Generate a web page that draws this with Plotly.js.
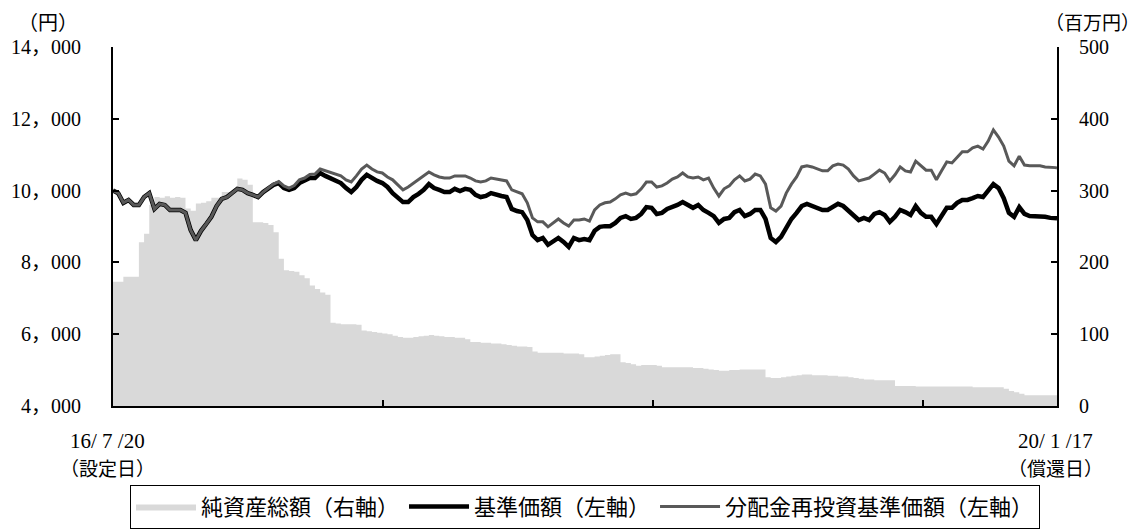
<!DOCTYPE html>
<html>
<head>
<meta charset="utf-8">
<script src="https://cdn.plot.ly/plotly-3.0.1.min.js"></script>
<style>html,body{margin:0;padding:0;background:#fff;}#chart{width:1140px;height:530px;}</style>
</head>
<body>
<div id="chart"></div>
<script>
// ---- data (weekly readings, launch 2016-07-20 to redemption 2020-01-17) ----
const startDate = '2016-07-20';
const endDate = '2020-01-17';
const yenTicks = [4000, 6000, 8000, 10000, 12000, 14000];
const yenTickLabels = ['4，000', '6，000', '8，000', '10，000', '12，000', '14，000'];
const mnTicks = [0, 100, 200, 300, 400, 500];
const yearTicks = ['2017-07-20', '2018-07-20', '2019-07-20'];

// 基準価額 (円)
const nav = [
  10000, 9930, 9660, 9740, 9600, 9600, 9820, 9930, 9490, 9630,
  9600, 9460, 9460, 9460, 9380, 8900, 8620, 8880, 9070, 9270,
  9570, 9770, 9820, 9930, 10050, 10020, 9930, 9880, 9820, 9960,
  10050, 10160, 10210, 10070, 10020, 10070, 10210, 10270, 10350, 10350,
  10490, 10410, 10350, 10300, 10210, 10070, 9960, 10100, 10300, 10440,
  10350, 10270, 10210, 10100, 9930, 9790, 9680, 9680, 9820, 9910,
  10020, 10180, 10070, 10020, 9960, 9960, 10050, 9990, 10050, 10020,
  9880, 9820, 9850, 9930, 9880, 9850, 9820, 9490, 9430, 9400,
  9180, 8760, 8620, 8680, 8490, 8570, 8680, 8570, 8430, 8680,
  8620, 8650, 8620, 8880, 8990, 9010, 9010, 9100, 9240, 9290,
  9210, 9240, 9350, 9540, 9520, 9350, 9380, 9490, 9540, 9600,
  9680, 9600, 9520, 9600, 9460, 9380, 9290, 9100, 9210, 9240,
  9400, 9460, 9290, 9350, 9460, 9460, 9210, 8680, 8570, 8710,
  8990, 9210, 9380, 9570, 9630, 9570, 9540, 9460, 9460, 9540,
  9630, 9570, 9430, 9290, 9180, 9240, 9180, 9350, 9400, 9320,
  9130, 9270, 9460, 9400, 9320, 9570, 9380, 9270, 9270, 9070,
  9290, 9520, 9520, 9660, 9740, 9740, 9790, 9850, 9820, 9990,
  10180, 10070, 9790, 9380, 9270, 9540, 9350, 9290, 9290, 9270,
  9270, 9240, 9240,
  9230
];

// 分配金再投資基準価額 (円)
const navReinvested = [
  10000, 9930, 9660, 9740, 9600, 9600, 9820, 9930, 9490, 9630,
  9600, 9460, 9460, 9460, 9380, 8900, 8620, 8880, 9070, 9270,
  9570, 9770, 9820, 9930, 10050, 10020, 9930, 9880, 9820, 9960,
  10070, 10180, 10250, 10130, 10070, 10140, 10300, 10350, 10450, 10460,
  10600, 10550, 10490, 10460, 10410, 10300, 10240, 10410, 10600, 10710,
  10600, 10520, 10490, 10380, 10300, 10160, 10020, 10100, 10210, 10300,
  10410, 10520, 10440, 10380, 10350, 10350, 10410, 10410, 10410, 10350,
  10270, 10240, 10270, 10350, 10320, 10300, 10270, 10020, 9960, 9910,
  9660, 9240, 9130, 9130, 8990, 9100, 9210, 9100, 9010, 9180,
  9180, 9210, 9150, 9460, 9600, 9660, 9680, 9770, 9880, 9930,
  9880, 9910, 10050, 10240, 10240, 10100, 10130, 10210, 10320, 10380,
  10490, 10380, 10350, 10380, 10300, 10350, 10070, 9850, 10050, 10130,
  10300, 10410, 10270, 10320, 10460, 10410, 10180, 9520, 9430, 9570,
  9930, 10180, 10380, 10660, 10690, 10660, 10600, 10550, 10550, 10690,
  10740, 10710, 10600, 10410, 10270, 10300, 10350, 10460, 10570, 10490,
  10270, 10440, 10660, 10550, 10520, 10820, 10690, 10570, 10570, 10300,
  10550, 10800, 10770, 10940, 11080, 11080, 11190, 11240, 11160, 11380,
  11690, 11490, 11240, 10820, 10690, 10960, 10710, 10690, 10690, 10690,
  10660, 10660, 10640,
  10630
];

// 純資産総額 (百万円)
const netAssets = [
  173, 173, 180, 180, 180, 228, 240, 280, 291, 290,
  292, 290, 291, 290, 275, 272, 282, 283, 285, 290,
  290, 298, 298, 300, 317, 315, 308, 256, 256, 255,
  252, 242, 205, 189, 188, 187, 182, 178, 168, 163,
  158, 155, 116, 115, 114, 114, 114, 113, 105, 104,
  103, 102, 101, 100, 98, 96, 95, 95, 96, 97,
  98, 99, 98, 97, 96, 96, 95, 95, 93, 89,
  89, 88, 88, 87, 87, 86, 85, 84, 83, 83,
  82, 76, 74, 74, 74, 74, 74, 73, 73, 73,
  72, 68, 68, 69, 70, 71, 72, 72, 61, 60,
  58, 56, 57, 57, 57, 56, 54, 54, 54, 54,
  54, 54, 53, 53, 52, 51, 50, 49, 49, 50,
  50, 51, 51, 51, 51, 51, 40, 39, 39, 40,
  41, 42, 43, 44, 44, 43, 43, 43, 42, 42,
  41, 41, 40, 39, 38, 37, 37, 36, 36, 36,
  36, 28, 28, 28, 28, 27, 27, 27, 27, 27,
  27, 27, 27, 27, 27, 27, 26, 26, 26, 26,
  26, 26, 24, 21, 19, 17, 15, 15, 15, 15,
  15, 15, 15,
  15
];

// weekly observation dates from launch, plus the redemption date
const dates = [];
(function () {
  const t0 = Date.parse(startDate + 'T00:00:00Z');
  for (let i = 0; i < nav.length - 1; i++) {
    dates.push(new Date(t0 + i * 7 * 86400000).toISOString().slice(0, 10));
  }
  dates.push(endDate);
})();

const FONT = 'Liberation Serif, "Noto Sans CJK JP", serif';
const CJK = '"Noto Sans CJK JP", sans-serif';

const traces = [
  {
    x: dates, y: netAssets, name: '純資産総額（右軸）', type: 'scatter', mode: 'lines',
    line: {width: 0, shape: 'hv', color: '#d9d9d9'}, fill: 'tozeroy', fillcolor: '#d9d9d9',
    xaxis: 'x', yaxis: 'y'
  },
  {
    x: dates, y: nav, name: '基準価額（左軸）', type: 'scatter', mode: 'lines',
    line: {width: 4.5, color: '#000000'}, xaxis: 'x', yaxis: 'y2'
  },
  {
    x: dates, y: navReinvested, name: '分配金再投資基準価額（左軸）', type: 'scatter', mode: 'lines',
    line: {width: 3, color: '#595959'}, xaxis: 'x', yaxis: 'y2'
  }
];

const layout = {
  width: 1140, height: 530,
  margin: {l: 113, r: 83, t: 47, b: 124, pad: 0, autoexpand: false},
  paper_bgcolor: '#ffffff', plot_bgcolor: '#ffffff',
  font: {family: FONT, size: 20, color: '#000000'},
  showlegend: true,
  legend: {
    orientation: 'h', x: 0.5, xanchor: 'center', y: -0.219, yanchor: 'top',
    bordercolor: '#000000', borderwidth: 1, bgcolor: '#ffffff',
    font: {family: FONT, size: 22, color: '#000000'},
    itemwidth: 60, traceorder: 'normal', tracegroupgap: 0
  },
  xaxis: {
    type: 'date', range: [startDate, endDate], showgrid: false, zeroline: false,
    showline: true, linecolor: '#000000', linewidth: 2, mirror: false,
    ticks: 'inside', ticklen: 6, tickwidth: 2, tickcolor: '#000000',
    tickmode: 'array', tickvals: yearTicks, showticklabels: false, fixedrange: true
  },
  yaxis: {
    range: [0, 500], side: 'right', showgrid: false, zeroline: false,
    showline: true, linecolor: '#000000', linewidth: 2,
    ticks: 'inside', ticklen: 6, tickwidth: 2, tickcolor: '#000000',
    tickmode: 'array', tickvals: mnTicks, ticktext: mnTicks.map(String),
    tickfont: {family: FONT, size: 20, color: '#000000'}, ticklabelstandoff: 16
  },
  yaxis2: {
    range: [4000, 14000], side: 'left', overlaying: 'y', showgrid: false, zeroline: false,
    showline: true, linecolor: '#000000', linewidth: 2,
    ticks: 'inside', ticklen: 6, tickwidth: 2, tickcolor: '#000000',
    tickmode: 'array', tickvals: yenTicks, ticktext: yenTickLabels,
    tickfont: {family: FONT, size: 20, color: '#000000'}, ticklabelstandoff: 26
  },
  annotations: [
    {text: '（円）', xref: 'paper', yref: 'paper', x: -0.069, y: 1.072, xanchor: 'center', yanchor: 'middle', showarrow: false, font: {family: CJK, size: 20, color: '#000'}},
    {text: '（百万円）', xref: 'paper', yref: 'paper', x: 1.038, y: 1.07, xanchor: 'center', yanchor: 'middle', showarrow: false, font: {family: CJK, size: 19, color: '#000'}},
    {text: '16/ 7 /20', xref: 'paper', yref: 'paper', x: -0.006, y: -0.0975, xanchor: 'center', yanchor: 'middle', showarrow: false, font: {family: FONT, size: 21, color: '#000'}},
    {text: '（設定日）', xref: 'paper', yref: 'paper', x: -0.006, y: -0.17, xanchor: 'center', yanchor: 'middle', showarrow: false, font: {family: CJK, size: 19, color: '#000'}},
    {text: '20/ 1 /17', xref: 'paper', yref: 'paper', x: 0.998, y: -0.0975, xanchor: 'center', yanchor: 'middle', showarrow: false, font: {family: FONT, size: 21, color: '#000'}},
    {text: '（償還日）', xref: 'paper', yref: 'paper', x: 0.998, y: -0.17, xanchor: 'center', yanchor: 'middle', showarrow: false, font: {family: CJK, size: 19, color: '#000'}}
  ]
};

Plotly.newPlot('chart', traces, layout, {staticPlot: true, displayModeBar: false});
</script>
</body>
</html>
